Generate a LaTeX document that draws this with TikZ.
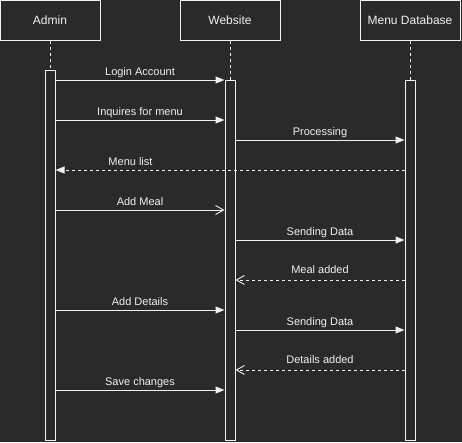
\documentclass[tikz,border=0pt]{standalone}
\usepackage{fontspec}
\setmainfont{Liberation Sans}
\usetikzlibrary{arrows.meta,calc}
\definecolor{bg}{RGB}{42,42,42}
\definecolor{fg}{RGB}{240,240,240}
\tikzset{
  x=1pt,y=-1pt,
  every node/.style={text=fg},
  head/.style={draw=fg,line width=1pt,fill=bg,minimum width=100pt,minimum height=40pt,inner sep=0pt,font=\fontsize{12}{14}\selectfont},
  bar/.style={draw=fg,line width=1pt,fill=bg,minimum width=10pt,inner sep=0pt},
  life/.style={draw=fg,line width=0.8pt,dash pattern=on 3pt off 3pt},
  msg/.style={draw=fg,line width=1pt,-{Triangle[length=9pt,width=7pt]}},
  msgopen/.style={draw=fg,line width=1pt,-{Straight Barb[length=8pt,width=9pt,line width=0.9pt]}},
  ret/.style={msg,dash pattern=on 3pt off 3pt},
  retopen/.style={msgopen,dash pattern=on 3pt off 3pt},
  lbl/.style={midway,above,inner sep=0pt,yshift=2pt,text depth=2.3pt,font=\fontsize{11}{13}\selectfont}
}
\begin{document}
\begin{tikzpicture}
\fill[bg] (0,0) rectangle (462,442);
\useasboundingbox (0,0) rectangle (462,442);
\node[head] (admin) at (50,20) {Admin};
\node[head] (web) at (230,20) {Website};
\node[head] (db) at (410,20) {Menu Database};
\node[bar,minimum height=370pt] (barA) at (50,255) {};
\node[bar,minimum height=360pt] (barW) at (230,260) {};
\node[bar,minimum height=360pt] (barD) at (410,260) {};
\draw[life] (admin.south) -- (barA.north);
\draw[life] (web.south) -- (barW.north);
\draw[life] (db.south) -- (barD.north);
\draw[msg] (barA.east |- 0,80) -- node[lbl]{Login Account} (barW.west |- 0,80);
\draw[msg] (barA.east |- 0,120) -- node[lbl]{Inquires for menu} (barW.west |- 0,120);
\draw[msg] (barW.east |- 0,140) -- node[lbl]{Processing} (barD.west |- 0,140);
\draw[ret] (barD.west |- 0,170) -- node[lbl,xshift=-99.5pt]{Menu list} (barA.east |- 0,170);
\draw[msgopen] (barA.east |- 0,210) -- node[lbl]{Add Meal} (barW.west |- 0,210);
\draw[msg] (barW.east |- 0,240) -- node[lbl]{Sending Data} (barD.west |- 0,240);
\draw[retopen] (barD.west |- 0,280) -- node[lbl,yshift=1.5pt]{Meal added} (barW.east |- 0,280);
\draw[msg] (barA.east |- 0,310) -- node[lbl]{Add Details} (barW.west |- 0,310);
\draw[msg] (barW.east |- 0,330) -- node[lbl]{Sending Data} (barD.west |- 0,330);
\draw[retopen] (barD.west |- 0,370) -- node[lbl,yshift=1.5pt]{Details added} (barW.east |- 0,370);
\draw[msg] (barA.east |- 0,390) -- node[lbl]{Save changes} (barW.west |- 0,390);
\end{tikzpicture}
\end{document}
